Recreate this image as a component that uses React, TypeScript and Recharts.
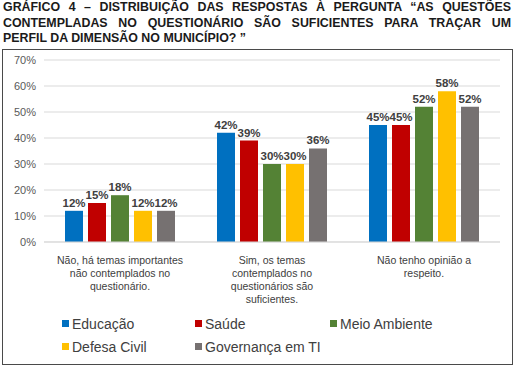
import React from "react";
import { BarChart, Bar, XAxis, YAxis, CartesianGrid, LabelList, Legend } from "recharts";

const categories = [
  "Não, há temas importantes\nnão contemplados no\nquestionário.",
  "Sim, os temas\ncontemplados no\nquestionários são\nsuficientes.",
  "Não tenho opinião a\nrespeito.",
];
const educacao = [12, 42, 45];
const saude = [15, 39, 45];
const meioAmbiente = [18, 30, 52];
const defesaCivil = [12, 30, 58];
const governanca = [12, 36, 52];
const yTicks = [0, 10, 20, 30, 40, 50, 60, 70];
const titleLines = [
  "GRÁFICO 4 – DISTRIBUIÇÃO DAS RESPOSTAS À PERGUNTA “AS QUESTÕES",
  "CONTEMPLADAS NO QUESTIONÁRIO SÃO SUFICIENTES PARA TRAÇAR UM",
  "PERFIL DA DIMENSÃO NO MUNICÍPIO? ”",
];

const series = [
  { key: "educacao", name: "Educação", color: "#0070C0", values: educacao },
  { key: "saude", name: "Saúde", color: "#C00000", values: saude },
  { key: "meio", name: "Meio Ambiente", color: "#548235", values: meioAmbiente },
  { key: "defesa", name: "Defesa Civil", color: "#FFC000", values: defesaCivil },
  { key: "gov", name: "Governança em TI", color: "#767171", values: governanca },
];

const data = categories.map((c, i) => {
  const row: any = { category: c };
  series.forEach((s) => (row[s.key] = s.values[i]));
  return row;
});

const FONT = "'Liberation Sans', Arial, sans-serif";

const XTick = (props: any) => {
  const { x, y, payload } = props;
  const lines = String(payload.value).split("\n");
  return (
    <g transform={`translate(${x},${y})`}>
      {lines.map((l, i) => (
        <text key={i} x={0} y={14 + i * 13} textAnchor="middle" fontSize={10.5} fill="#404040" fontFamily={FONT}>
          {l}
        </text>
      ))}
    </g>
  );
};

const legendPos = [
  { x: 62, y: 0 },
  { x: 195, y: 0 },
  { x: 330, y: 0 },
  { x: 62, y: 23 },
  { x: 195, y: 23 },
];

const LegendContent = () => (
  <div style={{ position: "relative", width: 520, height: 48, fontFamily: FONT }}>
    {series.map((s, i) => (
      <div
        key={s.key}
        style={{
          position: "absolute",
          left: legendPos[i].x,
          top: legendPos[i].y,
          height: 23,
          display: "flex",
          alignItems: "center",
          fontSize: 14,
          color: "#404040",
          whiteSpace: "nowrap",
        }}
      >
        <span style={{ display: "inline-block", width: 7, height: 7, background: s.color, marginRight: 3 }} />
        {s.name}
      </div>
    ))}
  </div>
);

export default function App() {
  return (
    <div style={{ position: "absolute", left: 0, top: 0, width: 520, height: 368, background: "#fff", fontFamily: FONT }}>
      <div
        style={{
          position: "absolute",
          left: 3,
          top: 0,
          width: 508,
          fontSize: 12.4,
          fontWeight: "bold",
          lineHeight: "15.5px",
          color: "#1a1a1a",
          whiteSpace: "nowrap",
        }}
      >
        {titleLines.map((l, i) => (
          <div
            key={i}
            style={{
              textAlign: "justify",
              textAlignLast: i < titleLines.length - 1 ? "justify" : "left",
              whiteSpace: "normal",
            }}
          >
            {l}
          </div>
        ))}
      </div>
      <div
        style={{
          position: "absolute",
          left: 2,
          top: 49,
          width: 509,
          height: 314,
          border: "1.5px solid #4a4a4a",
        }}
      />
      <div style={{ position: "absolute", left: 0, top: 0 }}>
        <BarChart
          width={520}
          height={368}
          data={data}
          margin={{ top: 60, right: 20, bottom: 8, left: 0 }}
          barGap={5}
          barSize={18}
        >
          <CartesianGrid vertical={false} stroke="#D9D9D9" />
          <XAxis
            dataKey="category"
            height={70}
            tick={<XTick />}
            tickLine={false}
            axisLine={{ stroke: "#D9D9D9" }}
            interval={0}
          />
          <YAxis
            width={44}
            domain={[0, 70]}
            ticks={yTicks}
            tickFormatter={(v: number) => `${v}%`}
            tickLine={false}
            axisLine={false}
            tick={{ fontSize: 11, fill: "#595959", fontFamily: FONT }}
          />
          <Legend verticalAlign="bottom" content={<LegendContent />} wrapperStyle={{ left: 0, width: 520 }} />
          {series.map((s) => (
            <Bar key={s.key} dataKey={s.key} name={s.name} fill={s.color} isAnimationActive={false}>
              <LabelList
                dataKey={s.key}
                position="top"
                offset={4}
                formatter={(v: any) => `${v}%`}
                style={{ fontSize: 11.5, fontWeight: "bold", fill: "#404040", fontFamily: FONT }}
              />
            </Bar>
          ))}
        </BarChart>
      </div>
    </div>
  );
}
